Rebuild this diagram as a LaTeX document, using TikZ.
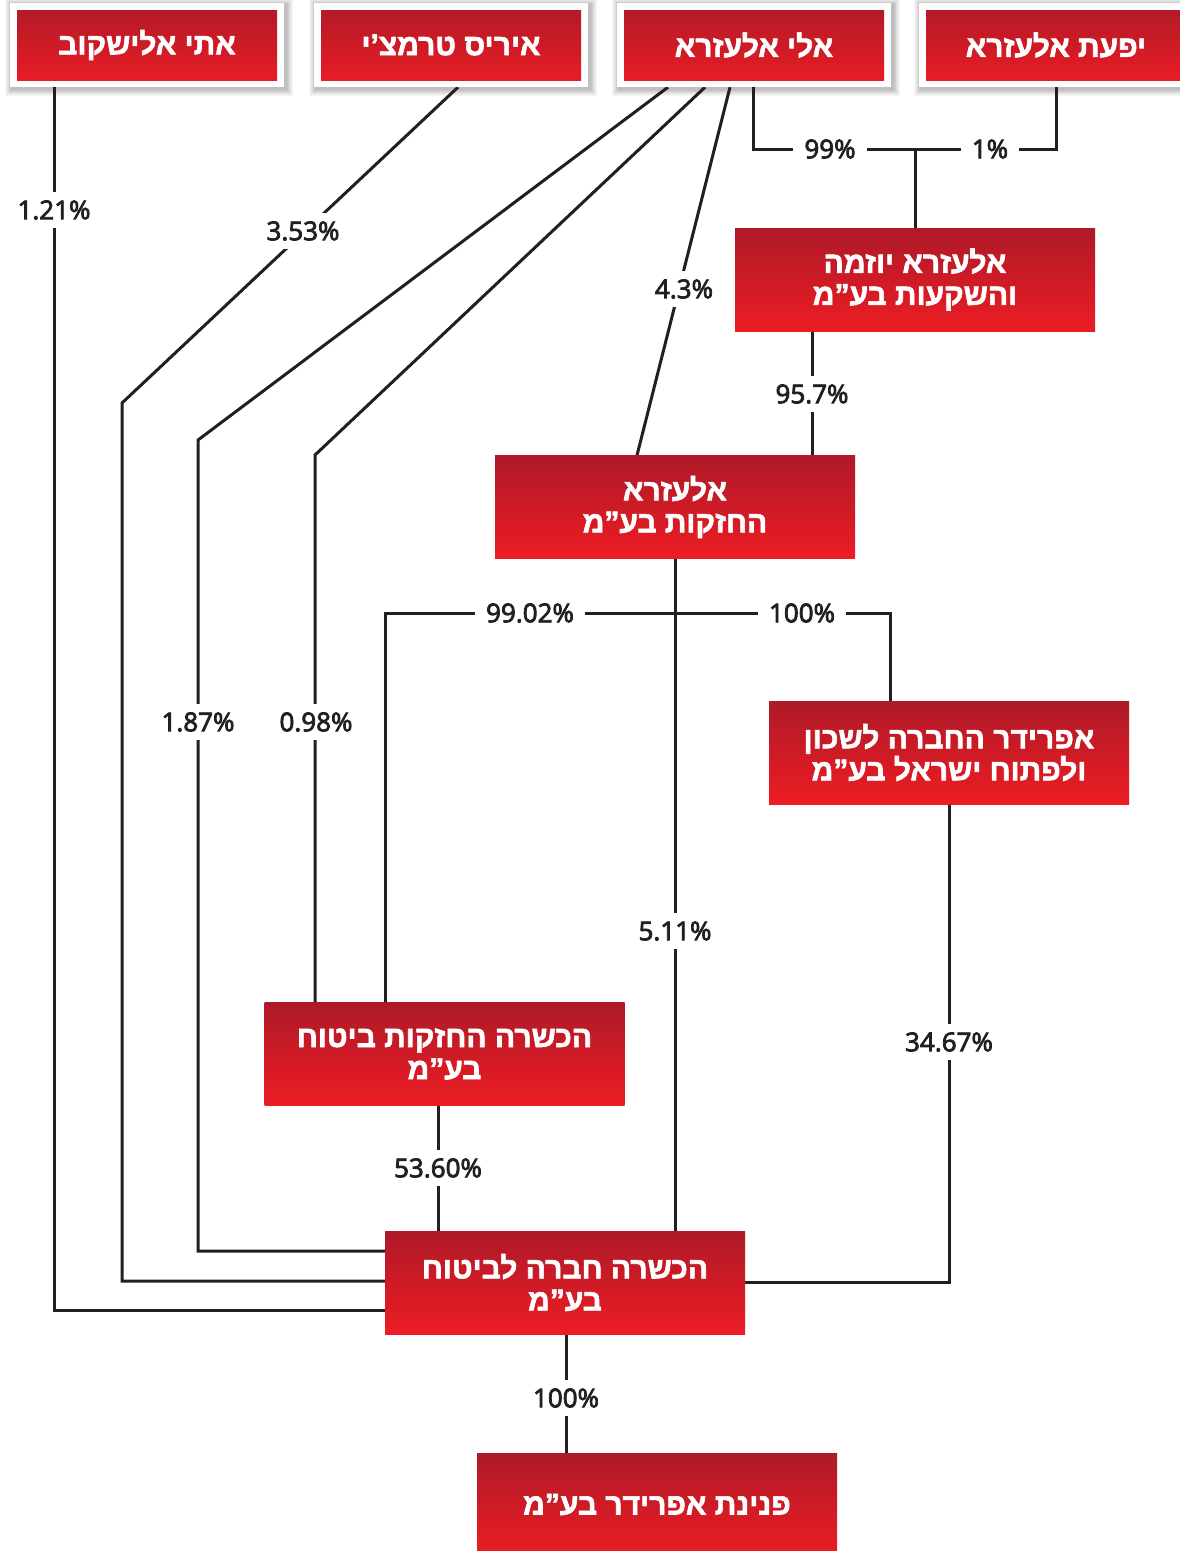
\documentclass[tikz,border=0pt]{standalone}
\usepackage{fontspec}
\usetikzlibrary{calc,backgrounds}
\TeXXeTstate=1
\newfontfamily\hebfont[Script=Hebrew,BoldFeatures={FakeBold=2}]{Liberation Sans}
\newfontfamily\lblfont[FakeBold=3]{Open Sans}
\definecolor{redtop}{RGB}{174,26,40}
\definecolor{redbot}{RGB}{237,28,36}
\definecolor{ink}{RGB}{35,31,32}
\newcommand{\heb}[1]{\beginR #1\endR}
\begin{document}
\begin{tikzpicture}[x=1pt,y=-1pt,
 boxfont/.style={font=\hebfont\bfseries\fontsize{30}{32}\selectfont},
 redbox/.style={rectangle, minimum width=360pt, minimum height=103pt, inner sep=0pt,
   top color=redtop, bottom color=redbot, text=white, boxfont, align=center},
 framebox/.style={rectangle, fill=white, minimum width=274pt, minimum height=84pt, inner sep=0pt,
   text=white, boxfont, align=center,
   path picture={\shade[top color=redtop,bottom color=redbot]
     ($(path picture bounding box.south west)+(7pt,7pt)$) rectangle
     ($(path picture bounding box.north east)+(-7pt,-7pt)$);}},
 link/.style={draw=ink, line width=3pt},
 lbl/.style={fill=white, text=ink, font=\lblfont\fontsize{26}{30}\selectfont, inner xsep=11pt, inner ysep=8pt}]
\useasboundingbox (0,0) rectangle (1180,1551);

% top row
\node[framebox] (etti)  at (147,45)  {\heb{אתי אלישקוב}};
\node[framebox] (iris)  at (451,45)  {\heb{איריס טרמצ’י}};
\node[framebox] (eli)   at (754,45)  {\heb{אלי אלעזרא}};
\node[framebox] (yifat) at (1056,45) {\heb{יפעת אלעזרא}};

% companies
\node[redbox] (yozma)    at (915,279.5)  {\heb{אלעזרא יוזמה}\\\heb{והשקעות בע”מ}};
\node[redbox] (holdings) at (675,507)    {\heb{אלעזרא}\\\heb{החזקות בע”מ}};
\node[redbox] (afridar)  at (949,752.5)  {\heb{אפרידר החברה לשכון}\\\heb{ולפתוח ישראל בע”מ}};
\node[redbox] (hhb)      at (444.5,1054) {\heb{הכשרה החזקות ביטוח}\\\heb{בע”מ}};
\node[redbox] (hcl)      at (565,1282.5) {\heb{הכשרה חברה לביטוח}\\\heb{בע”מ}};
\node[redbox] (pninat)   at (657,1504.5) {\heb{פנינת אפרידר בע”מ}};

\coordinate (j1) at (915,149);
\coordinate (j2) at (675,613);

\begin{scope}[on background layer]
% soft shadows of the top frames
\foreach \n in {etti,iris,eli,yifat}{
  \foreach \s in {1,2,...,8}{
    \fill[black, opacity=0.035]
      ($(\n.north west)+(2-\s*0.8,2-\s*0.8)$) rectangle ($(\n.south east)+(2+\s*0.8,2+\s*0.8)$);
  }
}
\draw[link] ($(etti.south)+(-93,0)$) |- ($(hcl.west)+(0,27.5)$);
\draw[link] ($(iris.south)+(7,0)$) -- (122,403) |- ($(hcl.west)+(0,-1.5)$);
\draw[link] ($(eli.south)+(-86,0)$) -- (198,440) |- ($(hcl.west)+(0,-31.5)$);
\draw[link] ($(eli.south)+(-49,0)$) -- (315,455) -- ($(hhb.north)+(-129.5,0)$);
\draw[link] ($(eli.south)+(-24,0)$) -- ($(holdings.north)+(-38,0)$);
\draw[link] ($(eli.south)+(-1,0)$) |- (j1) -- (yozma.north);
\draw[link] (yifat.south) |- (j1);
\draw[link] ($(yozma.south)+(-103,0)$) -- ($(holdings.north)+(137,0)$);
\draw[link] (holdings.south) -- ($(hcl.north)+(110,0)$);
\draw[link] (j2) -| ($(hhb.north)+(-59.5,0)$);
\draw[link] (j2) -| ($(afridar.north)+(-59,0)$);
\draw[link] (afridar.south) |- (hcl.east);
\draw[link] ($(hhb.south)+(-6.5,0)$) -- ($(hcl.north)+(-127,0)$);
\draw[link] ($(hcl.south)+(1,0)$) -- ($(pninat.north)+(-91,0)$);
\end{scope}

% labels
\node[lbl] (l1)  at (54,210)   {1.21\%};
\node[lbl] (l2)  at (303,231)  {3.53\%};
\node[lbl] (l3)  at (198,722)  {1.87\%};
\node[lbl] (l4)  at (316,722)  {0.98\%};
\node[lbl] (l5)  at (684,289)  {4.3\%};
\node[lbl] (l6)  at (830,149)  {99\%};
\node[lbl] (l7)  at (990,149)  {1\%};
\node[lbl] (l8)  at (812,394)  {95.7\%};
\node[lbl] (l9)  at (675,931)  {5.11\%};
\node[lbl] (l10) at (530,613)  {99.02\%};
\node[lbl] (l11) at (802,613)  {100\%};
\node[lbl] (l12) at (949,1042) {34.67\%};
\node[lbl] (l13) at (438,1168) {53.60\%};
\node[lbl] (l14) at (566,1398) {100\%};
\end{tikzpicture}
\end{document}
